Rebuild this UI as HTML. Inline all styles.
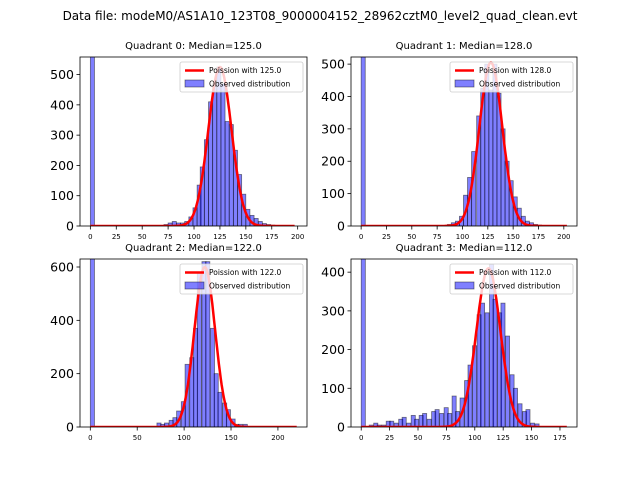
<!DOCTYPE html>
<html><head><meta charset="utf-8"><style>
body{margin:0;background:#fff;font-family:"Liberation Sans","DejaVu Sans",sans-serif}
svg text{font-family:"DejaVu Sans","Liberation Sans",sans-serif}
</style></head><body>
<svg id="c" width="640" height="480" viewBox="0 0 640 480" xmlns="http://www.w3.org/2000/svg">
<rect width="640" height="480" fill="#fff"/>
<text x="320" y="20" font-size="12" text-anchor="middle">Data file: modeM0/AS1A10_123T08_9000004152_28962cztM0_level2_quad_clean.evt</text>
</svg>
<script>
const medians=[125.0,128.0,122.0,112.0];
const peaks=[525,505,600,410];
const binWidths=[3.94,4.06,4.4,3.63];
const q0Starts=[0,67,71,75,79,83,87,91,95,99,103,106,110,114,118,122,126,130,134,138,142,146,150,154,158,162,166,170,174];
const q0Counts=[1500,2,5,10,15,10,10,15,30,60,135,195,285,410,470,525,470,345,335,250,170,105,55,35,25,15,8,5,3];
const q1Starts=[0,85,89,93,97,101,105,109,114,118,122,126,130,134,138,142,146,150,154,158,162,166,170,174];
const q1Counts=[1500,5,10,15,30,95,150,230,340,425,500,420,500,410,300,200,140,90,55,30,15,10,5,3];
const q2Starts=[0,71,75,79,84,88,92,97,101,106,110,114,119,123,128,132,136,141,145,150,154,158,163];
const q2Counts=[1500,15,10,15,25,35,60,95,235,260,370,580,620,620,370,200,130,90,65,30,10,10,10];
const q3Starts=[0,7,11,14,18,22,25,29,33,36,40,44,47,51,54,58,62,65,69,73,76,80,83,87,91,94,98,102,105,109,113,116,120,123,127,131,134,138,142,145,149,153];
const q3Counts=[1500,5,10,5,5,15,15,10,20,25,10,30,20,30,35,20,40,45,35,50,35,80,40,75,120,160,210,290,320,295,420,330,295,320,235,135,100,60,40,45,10,8];
const xTicks=[[0,25,50,75,100,125,150,175,200],[0,25,50,75,100,125,150,175,200],[0,50,100,150,200],[0,25,50,75,100,125,150,175]];
const yTicks=[[0,100,200,300,400,500],[0,100,200,300,400,500],[0,200,400,600],[0,100,200,300,400]];
const xMax=[197,203,220,181];
const starts=[q0Starts,q1Starts,q2Starts,q3Starts];
const counts=[q0Counts,q1Counts,q2Counts,q3Counts];
const NS="http://www.w3.org/2000/svg";
const svg=document.getElementById('c');
function mk(tag,attrs,parent){const e=document.createElementNS(NS,tag);for(const k in attrs)e.setAttribute(k,attrs[k]);(parent||svg).appendChild(e);return e;}
const boxes=[[80,57,227,169],[351,57,226,169],[80,259,227,168],[351,259,226,168]];
const xlims=[[-10,209],[-10,213],[-11,231],[-9,190]];
const ylims=[[0,558],[0,522],[0,630],[0,434]];
for(let q=0;q<4;q++){
  const [bx,by,bw,bh]=boxes[q];
  const g=mk('g',{});
  
  
  const sx=v=>bx+(v-xlims[q][0])/(xlims[q][1]-xlims[q][0])*bw;
  const sy=v=>by+bh-(v-ylims[q][0])/(ylims[q][1]-ylims[q][0])*bh;
  const cp=mk('clipPath',{id:'cp'+q},g);mk('rect',{x:bx,y:by,width:bw,height:bh},cp);
  const plot=mk('g',{'clip-path':'url(#cp'+q+')'},g);
  const w=binWidths[q];
  starts[q].forEach((s,i)=>{
    const c=counts[q][i];
    const r=mk('rect',{x:sx(s),y:sy(c),width:sx(s+w)-sx(s),height:sy(0)-sy(c),fill:'rgba(0,0,255,0.5)',stroke:'rgba(0,0,0,0.5)','stroke-width':0.8},plot);
    
    
  });
  const lam=medians[q];let d='';
  for(let k=0;k<=xMax[q];k+=1){
    const v=peaks[q]*Math.exp(-(k-lam)*(k-lam)/(2*lam));
    d+=(k?'L':'M')+sx(k).toFixed(1)+','+sy(v).toFixed(1);
  }
  const pl=mk('path',{d:d,fill:'none',stroke:'#f00','stroke-width':2.5,'stroke-linejoin':'round'},plot);
  
  
  mk('rect',{x:bx,y:by,width:bw,height:bh,fill:'none',stroke:'#000','stroke-width':0.8},g);
  xTicks[q].forEach(t=>{
    mk('line',{x1:sx(t),x2:sx(t),y1:by+bh,y2:by+bh+3.5,stroke:'#000','stroke-width':0.8},g);
    const tx=mk('text',{x:sx(t),y:by+bh+13,'font-size':7,'text-anchor':'middle'},g);tx.textContent=t;
    
    
  });
  yTicks[q].forEach(t=>{
    mk('line',{x1:bx-3.5,x2:bx,y1:sy(t),y2:sy(t),stroke:'#000','stroke-width':0.8},g);
    const tx=mk('text',{x:bx-6,y:sy(t)+4.5,'font-size':12.5,'text-anchor':'end'},g);tx.textContent=t;
    
    
  });
  const tt=mk('text',{x:bx+bw/2,y:by-8,'font-size':10,'text-anchor':'middle'},g);
  tt.textContent='Quadrant '+q+': Median='+medians[q].toFixed(1);
  
  
  const lg=mk('g',{},g);
  
  
  const lx=bx+bw-127,ly=by+5;
  mk('rect',{x:lx,y:ly,width:123,height:30,fill:'rgba(255,255,255,0.8)',stroke:'#ccc','stroke-width':0.8,rx:2},lg);
  mk('line',{x1:lx+5,x2:lx+24,y1:ly+8.5,y2:ly+8.5,stroke:'#f00','stroke-width':2.5},lg);
  const t1=mk('text',{x:lx+29,y:ly+11,'font-size':7.5},lg);t1.textContent='Poission with '+medians[q].toFixed(1);
  mk('rect',{x:lx+5,y:ly+18,width:19,height:7,fill:'rgba(0,0,255,0.5)',stroke:'rgba(0,0,0,0.5)','stroke-width':0.8},lg);
  const t2=mk('text',{x:lx+29,y:ly+24.5,'font-size':7.5},lg);t2.textContent='Observed distribution';
}
</script>
</body></html>
